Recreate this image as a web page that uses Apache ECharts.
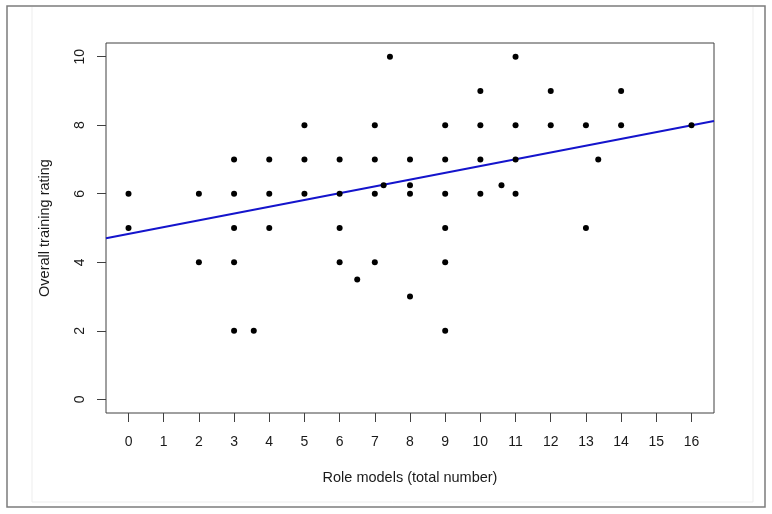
<!DOCTYPE html>
<html>
<head>
<meta charset="utf-8">
<script src="https://cdn.jsdelivr.net/npm/echarts@6/dist/echarts.min.js"></script>
<style>
  html, body { margin: 0; padding: 0; background: #fff; }
  #chart { width: 772px; height: 514px; }
</style>
</head>
<body>
<div id="chart"></div>
<script>
// role models (x) vs overall training rating (y)
const roleModels = [
  0, 0,
  2, 2,
  3, 3, 3, 3, 3,
  3.56,
  4, 4, 4,
  5, 5, 5,
  6, 6, 6, 6,
  6.5,
  7, 7, 7, 7,
  7.25,
  7.43,
  8, 8, 8, 8,
  9, 9, 9, 9, 9, 9,
  10, 10, 10, 10,
  10.6,
  11, 11, 11, 11,
  12, 12,
  13, 13,
  13.35,
  14, 14,
  16,
];
const ratings = [
  6, 5,
  6, 4,
  7, 6, 5, 4, 2,
  2,
  7, 6, 5,
  8, 7, 6,
  7, 6, 5, 4,
  3.5,
  8, 7, 6, 4,
  6.25,
  10,
  7, 6.25, 6, 3,
  8, 7, 6, 5, 4, 2,
  9, 8, 7, 6,
  6.25,
  10, 8, 7, 6,
  9, 8,
  8, 5,
  7,
  9, 8,
  8,
];

// fitted line (abline)
const fitIntercept = 4.83;
const fitSlope = 0.198;

const xTicks = [0, 1, 2, 3, 4, 5, 6, 7, 8, 9, 10, 11, 12, 13, 14, 15, 16];
const yTicks = [0, 2, 4, 6, 8, 10];

// R style axis range: data range extended 4% each side
const xMin = -0.64;
const xMax = 16.64;
const yMin = -0.4;
const yMax = 10.4;

const points = roleModels.map((x, i) => [x, ratings[i]]);
const fitLine = [xMin, xMax].map((x) => [x, fitIntercept + fitSlope * x]);

const chart = echarts.init(document.getElementById('chart'));

const labelFont = {
  fontFamily: 'Liberation Sans, Arial, sans-serif',
  fontSize: 14,
  color: '#1a1a1a',
};

const option = {
  backgroundColor: '#fff',
  animation: false,
  graphic: [
    {
      type: 'rect',
      shape: { x: 7, y: 6, width: 758, height: 501 },
      style: { fill: 'none', stroke: '#7c7c7c', lineWidth: 1.5 },
      z: 0,
    },
    {
      type: 'polyline',
      shape: { points: [[32, 7], [32, 502], [753, 502], [753, 7]] },
      style: { fill: 'none', stroke: '#ededed', lineWidth: 1 },
      z: 0,
    },
  ],
  grid: {
    left: 106,
    top: 43,
    width: 608,
    height: 370,
    show: true,
    borderColor: '#404040',
    borderWidth: 1,
    backgroundColor: 'transparent',
    containLabel: false,
  },
  xAxis: {
    type: 'value',
    min: xMin,
    max: xMax,
    name: 'Role models (total number)',
    nameLocation: 'middle',
    nameGap: 57,
    nameTextStyle: Object.assign({}, labelFont, { fontSize: 14.5 }),
    axisLine: { show: false, onZero: false },
    splitLine: { show: false },
    axisTick: {
      show: true,
      inside: false,
      length: 9,
      customValues: xTicks,
      lineStyle: { color: '#404040' },
    },
    axisLabel: Object.assign({
      customValues: xTicks,
      margin: 22,
    }, labelFont),
  },
  yAxis: {
    type: 'value',
    min: yMin,
    max: yMax,
    name: 'Overall training rating',
    nameLocation: 'middle',
    nameGap: 54,
    nameTextStyle: Object.assign({}, labelFont, { fontSize: 14.5 }),
    axisLine: { show: false, onZero: false },
    splitLine: { show: false },
    axisTick: {
      show: true,
      inside: false,
      length: 9,
      customValues: yTicks,
      lineStyle: { color: '#404040' },
    },
    axisLabel: Object.assign({
      customValues: yTicks,
      rotate: 90,
      margin: 19,
    }, labelFont),
  },
  series: [
    {
      type: 'line',
      data: fitLine,
      showSymbol: false,
      symbol: 'none',
      lineStyle: { color: '#1414cc', width: 2 },
      z: 2,
      silent: true,
    },
    {
      type: 'scatter',
      data: points,
      symbol: 'circle',
      symbolSize: 6,
      itemStyle: { color: '#000', opacity: 1 },
      z: 3,
    },
  ],
};

chart.setOption(option);
</script>
</body>
</html>
